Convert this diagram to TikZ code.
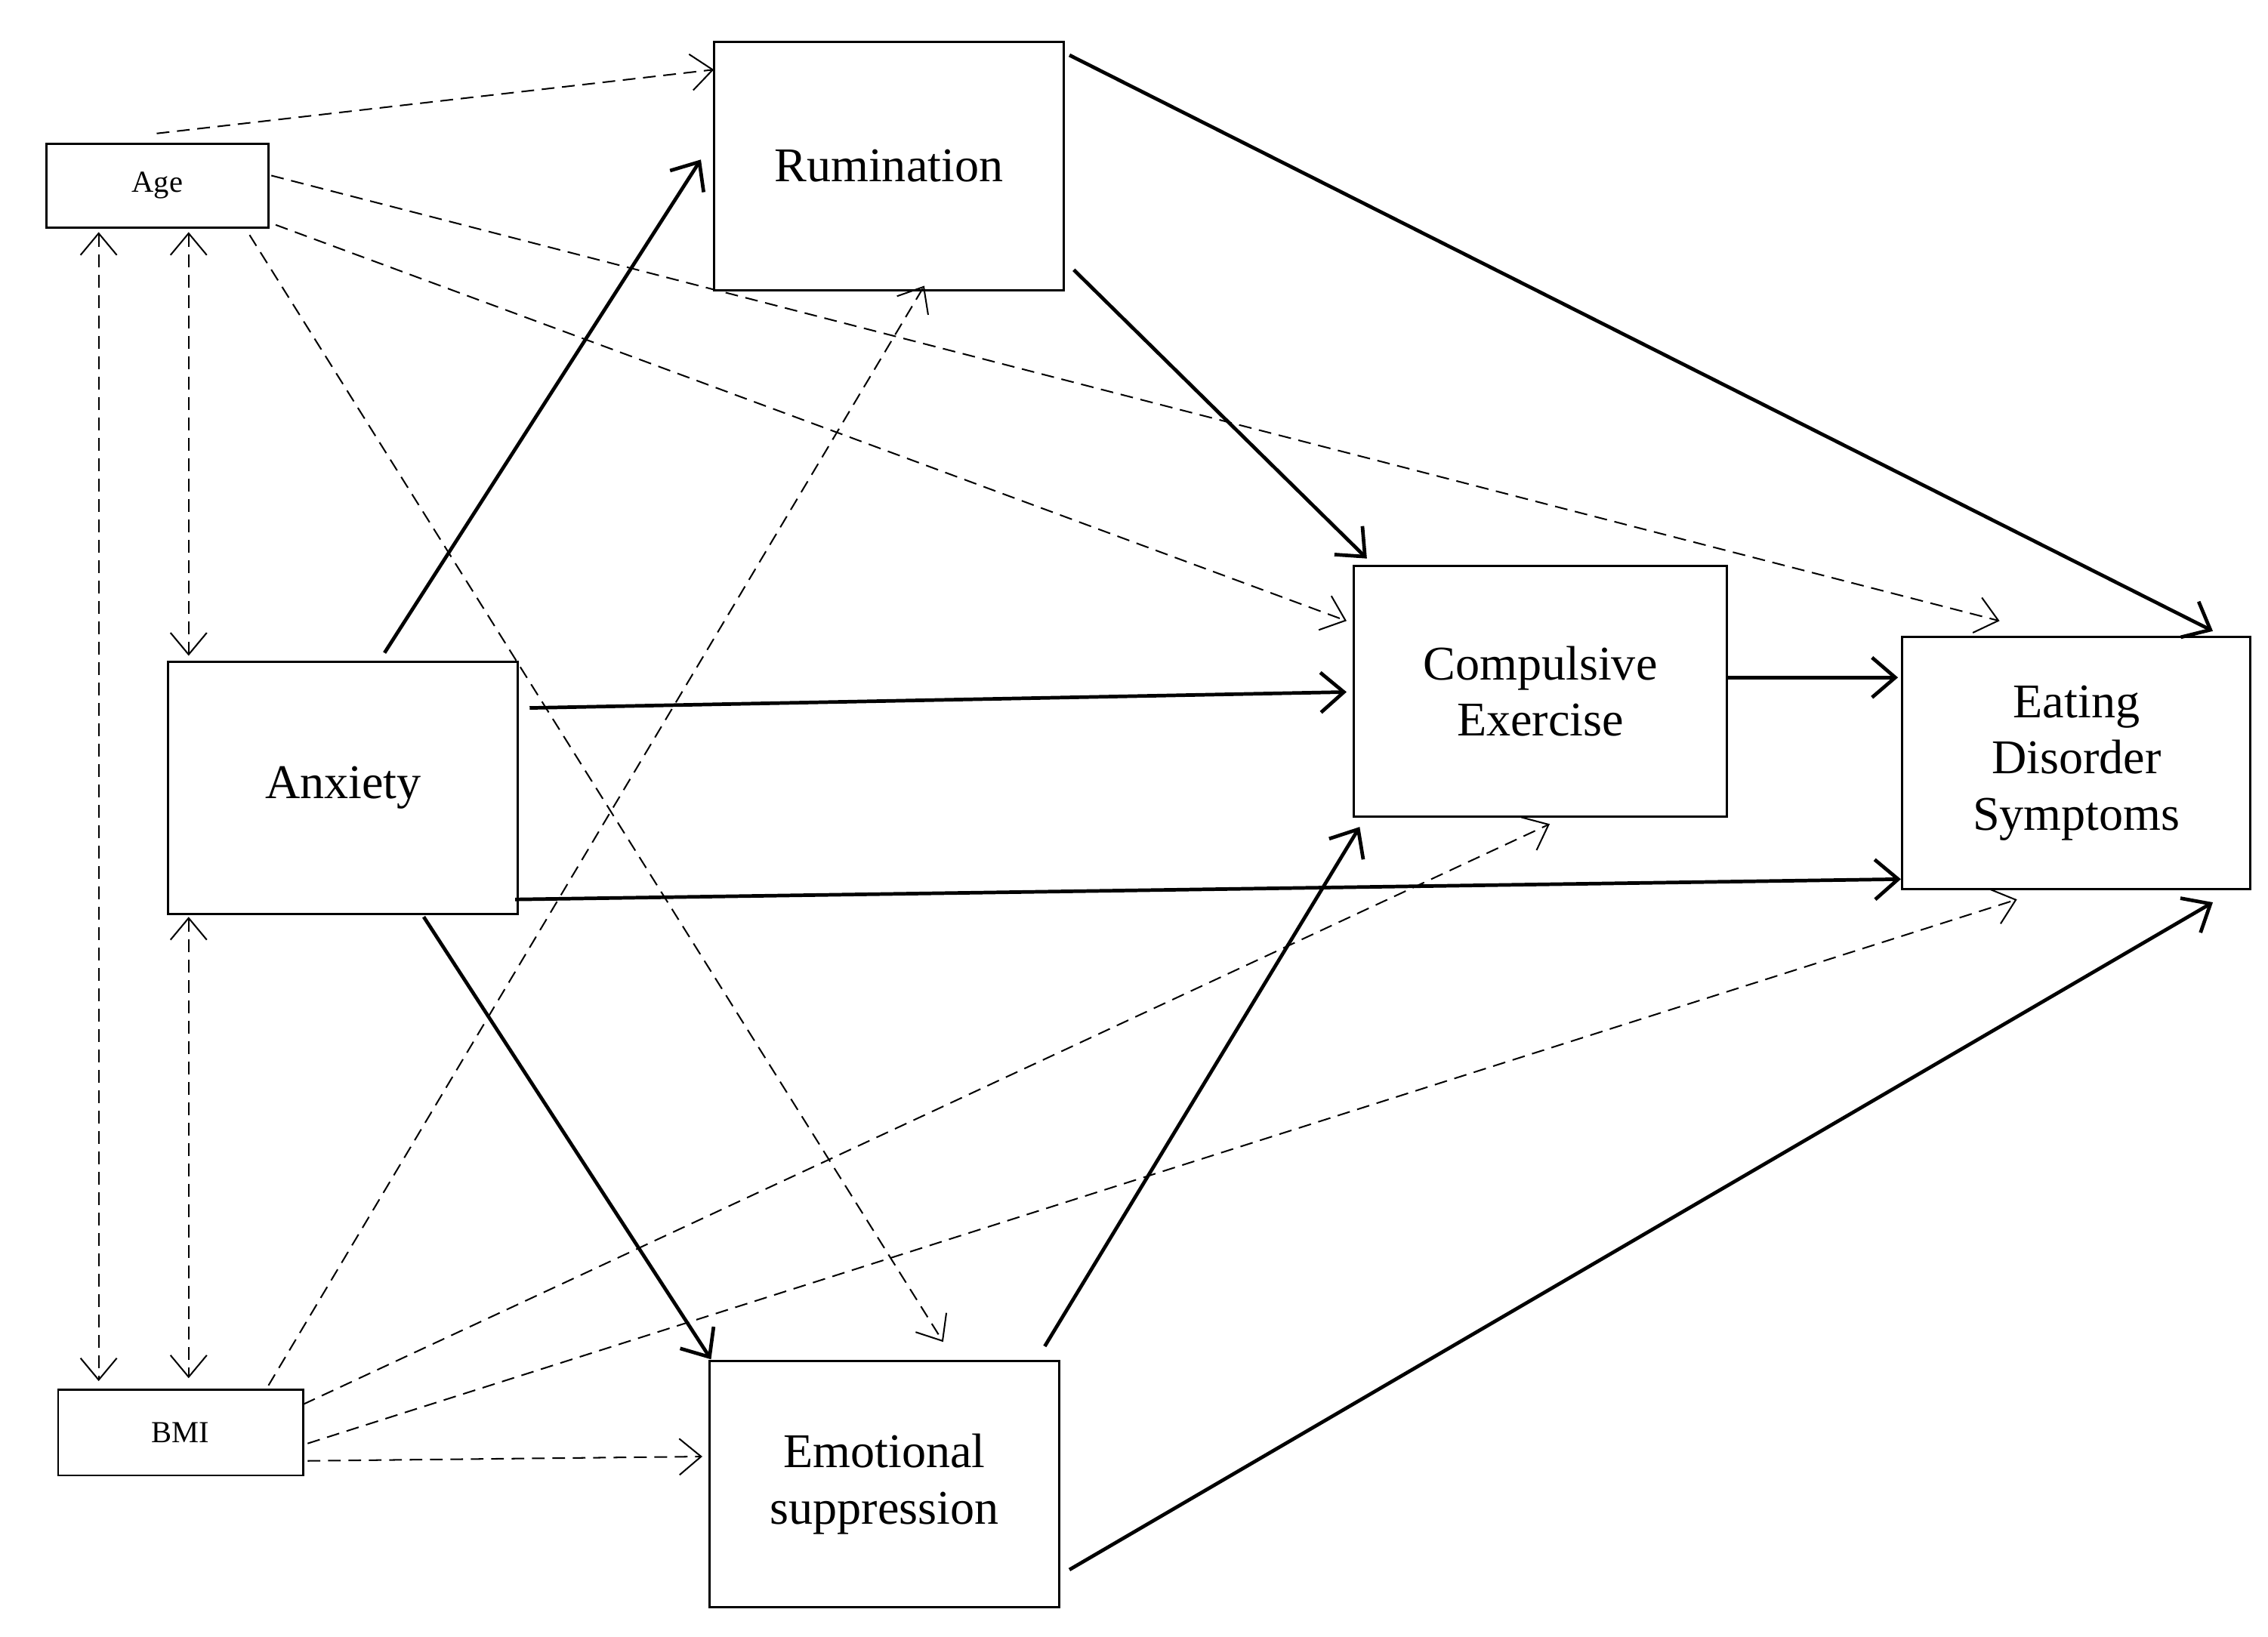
\documentclass[tikz,border=0pt]{standalone}
\usepackage{fontspec}
\setmainfont{Liberation Serif}
\usetikzlibrary{arrows.meta}
\begin{document}
\begin{tikzpicture}[x=0.02cm,y=-0.02cm,
  box/.style={draw,line width=0.9pt,align=center,inner sep=0pt,font=\fontsize{19}{22}\selectfont},
  small/.style={draw,line width=0.8pt,inner sep=0pt,font=\fontsize{12}{14}\selectfont},
  sol/.style={line width=1.4pt,-{Straight Barb[length=3.2mm,width=5.5mm]}},
  dsh/.style={line width=0.6pt,dash pattern=on 5pt off 3pt,-{Straight Barb[length=3mm,width=5mm]}},
  dd/.style={dsh,{Straight Barb[length=3mm,width=5mm]}-{Straight Barb[length=3mm,width=5mm]}}]
\useasboundingbox (0,0) rectangle (1563,1128);
\node[small,minimum width=3.06cm,minimum height=1.16cm] (age) at (108.5,128) {Age};
\node[small,minimum width=3.38cm,minimum height=1.18cm] (bmi) at (124.5,987.5) {BMI};
\node[box,minimum width=4.82cm,minimum height=3.42cm] (rum) at (612.5,114.5) {Rumination};
\node[box,minimum width=4.82cm,minimum height=3.48cm] (anx) at (236.5,543) {Anxiety};
\node[box,minimum width=5.14cm,minimum height=3.46cm] (ce) at (1061.5,476.5) {Compulsive\\Exercise};
\node[box,minimum width=4.80cm,minimum height=3.48cm] (eds) at (1431,526) {Eating\\Disorder\\Symptoms};
\node[box,minimum width=4.82cm,minimum height=3.40cm] (es) at (609.5,1023) {Emotional\\suppression};
% endpoints
\coordinate (a1) at (265,450); \coordinate (r1) at (483,110);
\coordinate (a2) at (365,488); \coordinate (c1) at (928,477);
\coordinate (a3) at (355,620); \coordinate (e1) at (1310,606);
\coordinate (a4) at (292,632); \coordinate (s1) at (490,937);
\coordinate (r2) at (740,186); \coordinate (c2) at (942,385);
\coordinate (r3) at (737,38);  \coordinate (e2) at (1525,435);
\coordinate (c3) at (1190,467); \coordinate (e3) at (1308,467);
\coordinate (s2) at (720,928); \coordinate (c4) at (937,570);
\coordinate (s3) at (737,1082); \coordinate (e4) at (1525,622);
\coordinate (g1) at (108,92); \coordinate (r4) at (492,48);
\coordinate (g2) at (187,121); \coordinate (e5) at (1378,428);
\coordinate (g3) at (190,155); \coordinate (c5) at (928,428);
\coordinate (g4) at (172,162); \coordinate (s4) at (650,925);
\coordinate (g5) at (68,160); \coordinate (b5) at (68,952);
\coordinate (g6) at (130,160); \coordinate (a6) at (130,452);
\coordinate (a7) at (130,632); \coordinate (b7) at (130,950);
\coordinate (b1) at (185,955); \coordinate (r5) at (637,197);
\coordinate (b2) at (209,968); \coordinate (c6) at (1068,568);
\coordinate (b3) at (212,995); \coordinate (e6) at (1390,620);
\coordinate (b4) at (212,1007); \coordinate (s5) at (484,1004);
\draw[sol] (a1)--(r1); \draw[sol] (a2)--(c1); \draw[sol] (a3)--(e1);
\draw[sol] (a4)--(s1); \draw[sol] (r2)--(c2); \draw[sol] (r3)--(e2);
\draw[sol] (c3)--(e3); \draw[sol] (s2)--(c4); \draw[sol] (s3)--(e4);
\draw[dsh] (g1)--(r4); \draw[dsh] (g2)--(e5); \draw[dsh] (g3)--(c5);
\draw[dsh] (g4)--(s4); \draw[dd] (g5)--(b5); \draw[dd] (g6)--(a6);
\draw[dd] (a7)--(b7); \draw[dsh] (b1)--(r5); \draw[dsh] (b2)--(c6);
\draw[dsh] (b3)--(e6); \draw[dsh] (b4)--(s5);
\end{tikzpicture}
\end{document}
